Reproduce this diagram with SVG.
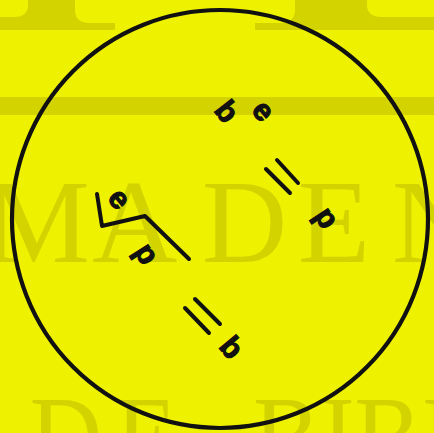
<svg xmlns="http://www.w3.org/2000/svg" width="434" height="433" viewBox="0 0 434 433">
<style>
.wm{fill:#D3D300}
.wmt{font-family:"Liberation Serif",serif;font-size:118px;fill:#D3D300}
.lt{fill:#EEF200}
.ltr{font-family:"Liberation Sans",Arial,sans-serif;font-weight:bold;font-size:30px;fill:#111;stroke:#111;stroke-width:1.2;text-anchor:middle}
.ln{stroke:#111;stroke-width:4;stroke-linecap:round;stroke-linejoin:round;fill:none}
</style>
<rect width="434" height="433" fill="#EEF200"/>
<g id="watermark">
<rect class="wm" x="0" y="0" width="115" height="30"/>
<rect class="wm" x="255" y="0" width="179" height="30"/>
<path class="lt" d="M0 0 H28 V5 Q28 17 14 17 H0 Z"/>
<path class="lt" d="M75 0 H115 V23 H90 Q75 23 75 10 Z"/>
<path class="lt" d="M255 0 H295 V10 Q295 23 280 23 H255 Z"/>
<path class="lt" d="M367 0 H434 V17 H382 Q367 17 367 5 Z"/>
<rect class="wm" x="0" y="97" width="434" height="18"/>
<text class="wmt" y="262"><tspan x="-15">M</tspan><tspan x="92">A</tspan><tspan x="202">D</tspan><tspan x="298">E</tspan><tspan x="392">N</tspan></text>
<text class="wmt" y="478" transform="scale(0.85,1)"><tspan x="35">D</tspan><tspan x="136">E</tspan><tspan x="298">B</tspan><tspan x="378">I</tspan><tspan x="417">B</tspan><tspan x="497">L</tspan></text>
</g>
<g id="boundary">
<ellipse cx="220" cy="219" rx="208" ry="209" fill="none" stroke="#111" stroke-width="4.2"/>
</g>
<g id="connectors">
<line class="ln" x1="266" y1="169" x2="290" y2="193"/>
<line class="ln" x1="277" y1="160" x2="298" y2="183"/>
<line class="ln" x1="185" y1="308" x2="209" y2="333"/>
<line class="ln" x1="195" y1="299" x2="220" y2="324"/>
<polyline class="ln" points="97,194 102,226 145,216 189,259"/>
</g>
<g id="node-b-top"><text class="ltr" transform="translate(226,114) rotate(52)" x="-1.5" y="8">b</text></g>
<g id="node-e-top"><text class="ltr" transform="translate(262,112) rotate(50)" x="0" y="8">e</text></g>
<g id="node-p-right"><text class="ltr" transform="translate(326,220) rotate(57)" x="-1.5" y="8">p</text></g>
<g id="node-e-left"><text class="ltr" transform="translate(118,200) rotate(50)" x="0" y="8">e</text></g>
<g id="node-p-left"><text class="ltr" transform="translate(146,256) rotate(58)" x="-1.5" y="8">p</text></g>
<g id="node-b-bottom"><text class="ltr" transform="translate(231,350) rotate(50)" x="-1.5" y="8">b</text></g>
</svg>
